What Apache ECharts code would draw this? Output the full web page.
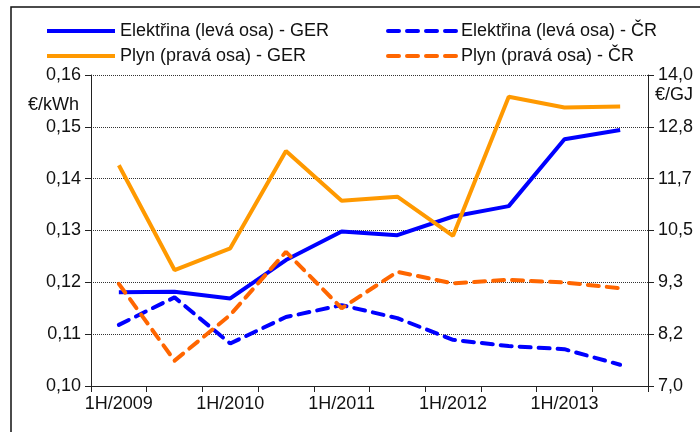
<!DOCTYPE html>
<html>
<head>
<meta charset="utf-8">
<script src="https://cdn.jsdelivr.net/npm/echarts@6/dist/echarts.min.js"></script>
<style>
  html, body { margin: 0; padding: 0; background: #fff; }
  #chart { width: 700px; height: 432px; }
</style>
</head>
<body>
<div id="chart"></div>
<script>
// pololetí
const categories = ['1H/2009', '2H/2009', '1H/2010', '2H/2010', '1H/2011', '2H/2011', '1H/2012', '2H/2012', '1H/2013', '2H/2013']

// elektřina, €/kWh (levá osa)
const elecGER = [0.1181, 0.1182, 0.1169, 0.1243, 0.1298, 0.1291, 0.1327, 0.1347, 0.1476, 0.1494]
const elecCR = [0.1118, 0.1171, 0.1082, 0.1133, 0.1156, 0.1131, 0.1089, 0.1077, 0.1071, 0.1041]

// plyn, €/GJ (pravá osa)
const gasGER = [11.97, 9.61, 10.10, 12.29, 11.17, 11.26, 10.38, 13.51, 13.27, 13.29]
const gasCR = [9.30, 7.57, 8.60, 10.02, 8.75, 9.57, 9.31, 9.39, 9.33, 9.20]

const names = [
  'Elektřina (levá osa) - GER',
  'Plyn (pravá osa) - GER',
  'Elektřina (levá osa) - ČR',
  'Plyn (pravá osa) - ČR'
]

const font = '"Liberation Sans", Arial, sans-serif'
const dash = [11, 8]

const chart = echarts.init(document.getElementById('chart'))

const legendBase = {
  orient: 'vertical',
  top: 17,
  itemGap: 7,
  itemWidth: 68,
  itemHeight: 19,
  itemStyle: { opacity: 0 },
  lineStyle: { width: 4 },
  textStyle: { fontFamily: font, fontSize: 18, color: '#111' }
}

chart.setOption({
  animation: false,
  textStyle: { fontFamily: font },
  legend: [
    Object.assign({ left: 40, data: [names[0], names[1]] }, legendBase),
    Object.assign({ left: 381, data: [names[2], names[3]] }, legendBase)
  ],
  grid: { left: 91, right: 52, top: 75, bottom: 46 },
  graphic: [
    {
      type: 'rect',
      shape: { x: 11, y: 7, width: 720, height: 460 },
      style: { fill: 'none', stroke: '#111', lineWidth: 1.5 },
      silent: true
    },
    {
      type: 'text', left: 28, top: 96,
      style: { text: '€/kWh', font: '18px ' + font, fill: '#111' }
    },
    {
      type: 'text', left: 655, top: 86,
      style: { text: '€/GJ', font: '18px ' + font, fill: '#111' }
    }
  ],
  xAxis: {
    type: 'category',
    data: categories,
    boundaryGap: true,
    axisLine: { lineStyle: { color: '#222', width: 1 } },
    axisTick: { show: true, interval: 0, length: 6, lineStyle: { color: '#222' } },
    axisLabel: { interval: 1, color: '#111', fontSize: 18, margin: 9 }
  },
  yAxis: [
    {
      type: 'value',
      min: 0.10,
      max: 0.16,
      interval: 0.01,
      axisLine: { show: true, lineStyle: { color: '#222', width: 1 } },
      axisTick: { show: true, length: 6, lineStyle: { color: '#222' } },
      axisLabel: {
        color: '#111', fontSize: 18, margin: 10,
        formatter: v => v.toFixed(2).replace('.', ',')
      },
      splitLine: { show: true, lineStyle: { type: 'dotted', color: '#333', width: 1 } }
    },
    {
      type: 'value',
      min: 7,
      max: 14,
      interval: 7 / 6,
      axisLine: { show: true, lineStyle: { color: '#222', width: 1 } },
      axisTick: { show: true, length: 6, lineStyle: { color: '#222' } },
      axisLabel: {
        color: '#111', fontSize: 18, margin: 10,
        formatter: v => v.toFixed(1).replace('.', ',')
      },
      splitLine: { show: false }
    }
  ],
  series: [
    {
      name: names[0], type: 'line', yAxisIndex: 0, data: elecGER,
      symbol: 'none', color: '#0000ff',
      lineStyle: { width: 4, color: '#0000ff' }
    },
    {
      name: names[1], type: 'line', yAxisIndex: 1, data: gasGER,
      symbol: 'none', color: '#ff9900',
      lineStyle: { width: 4, color: '#ff9900' }
    },
    {
      name: names[2], type: 'line', yAxisIndex: 0, data: elecCR,
      symbol: 'none', color: '#0000ff',
      lineStyle: { width: 4, color: '#0000ff', type: dash, cap: 'round' }
    },
    {
      name: names[3], type: 'line', yAxisIndex: 1, data: gasCR,
      symbol: 'none', color: '#ff6600',
      lineStyle: { width: 4, color: '#ff6600', type: dash, cap: 'round' }
    }
  ]
})
</script>
</body>
</html>
